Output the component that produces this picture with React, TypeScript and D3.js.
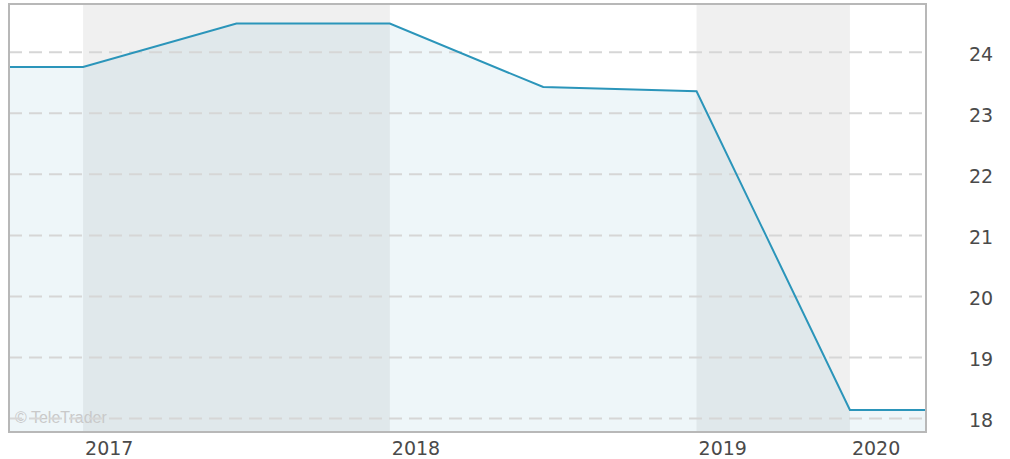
import React, { useRef, useEffect } from 'react';
import * as d3 from 'd3';

// one point per half year, x axis is by index
const pointIndex = [-0.5, 0, 1, 2, 3, 4, 5, 5.5];
const pointValue = [23.76, 23.76, 24.47, 24.47, 23.43, 23.36, 18.14, 18.14];

const yearLabels = ['2017', '2018', '2019', '2020'];
const yearIndex = [0, 2, 4, 5];
const greyBands = [[0, 2], [4, 5]];

const yTicks = [18, 19, 20, 21, 22, 23, 24];

export default function App() {
    const svgRef = useRef<SVGSVGElement>(null);

    useEffect(() => {
        if (!svgRef.current) return;

        const width = 1010;
        const height = 459;
        const plot = { left: 9, top: 4, right: 926, bottom: 432 };

        const svg = d3.select(svgRef.current)
            .attr('width', width)
            .attr('height', height);

        svg.selectAll('*').remove();

        const x = d3.scaleLinear()
            .domain([-0.483, 5.496])
            .range([plot.left, plot.right]);

        const y = d3.scaleLinear()
            .domain([17.78, 24.79])
            .range([plot.bottom, plot.top]);

        const defs = svg.append('defs');
        defs.append('clipPath').attr('id', 'plotClip')
            .append('rect')
            .attr('x', plot.left)
            .attr('y', plot.top)
            .attr('width', plot.right - plot.left)
            .attr('height', plot.bottom - plot.top);

        const g = svg.append('g').attr('clip-path', 'url(#plotClip)');

        // background + alternating year bands
        g.append('rect')
            .attr('x', plot.left).attr('y', plot.top)
            .attr('width', plot.right - plot.left)
            .attr('height', plot.bottom - plot.top)
            .attr('fill', '#ffffff');

        g.selectAll('rect.band')
            .data(greyBands)
            .enter().append('rect')
            .attr('class', 'band')
            .attr('x', d => x(d[0]))
            .attr('y', plot.top)
            .attr('width', d => x(d[1]) - x(d[0]))
            .attr('height', plot.bottom - plot.top)
            .attr('fill', '#f0f0f0');

        const pts = pointIndex.map((p, i) => ({ p, v: pointValue[i] }));

        // area under the line
        const area = d3.area<any>()
            .x(d => x(d.p))
            .y0(plot.bottom)
            .y1(d => y(d.v));

        g.append('path')
            .datum(pts)
            .attr('fill', 'rgb(30,140,180)')
            .attr('fill-opacity', 0.075)
            .attr('d', area);

        // watermark
        g.append('text')
            .attr('x', 15)
            .attr('y', 423)
            .attr('fill', '#c9c9c9')
            .attr('font-family', '"Liberation Sans", Arial, sans-serif')
            .attr('font-size', '16px')
            .text('© TeleTrader');

        // dashed grid
        g.selectAll('line.grid')
            .data(yTicks)
            .enter().append('line')
            .attr('class', 'grid')
            .attr('x1', plot.left)
            .attr('x2', plot.right)
            .attr('y1', d => y(d))
            .attr('y2', d => y(d))
            .attr('stroke', '#d6d6d6')
            .attr('stroke-width', 2)
            .attr('stroke-dasharray', '13,7');

        // line
        const line = d3.line<any>()
            .x(d => x(d.p))
            .y(d => y(d.v));

        g.append('path')
            .datum(pts)
            .attr('fill', 'none')
            .attr('stroke', '#2b95ba')
            .attr('stroke-width', 2)
            .attr('d', line);

        // frame
        svg.append('rect')
            .attr('x', plot.left)
            .attr('y', plot.top)
            .attr('width', plot.right - plot.left)
            .attr('height', plot.bottom - plot.top)
            .attr('fill', 'none')
            .attr('stroke', '#b8b8b8')
            .attr('stroke-width', 2);

        // right axis labels
        svg.selectAll('text.ylab')
            .data(yTicks)
            .enter().append('text')
            .attr('class', 'ylab')
            .attr('x', 969)
            .attr('y', d => y(d) + 3)
            .attr('dominant-baseline', 'middle')
            .attr('fill', '#4a4a4a')
            .attr('font-family', '"DejaVu Sans", sans-serif')
            .attr('font-size', '19px')
            .text(d => String(d));

        // year labels
        svg.selectAll('text.xlab')
            .data(yearLabels)
            .enter().append('text')
            .attr('class', 'xlab')
            .attr('x', (d, i) => x(yearIndex[i]) + 2)
            .attr('y', 455)
            .attr('fill', '#4a4a4a')
            .attr('font-family', '"DejaVu Sans", sans-serif')
            .attr('font-size', '19px')
            .text(d => d);
    }, []);

    return <svg ref={svgRef} style={{ position: 'absolute', left: 0, top: 0 }} />;
}
